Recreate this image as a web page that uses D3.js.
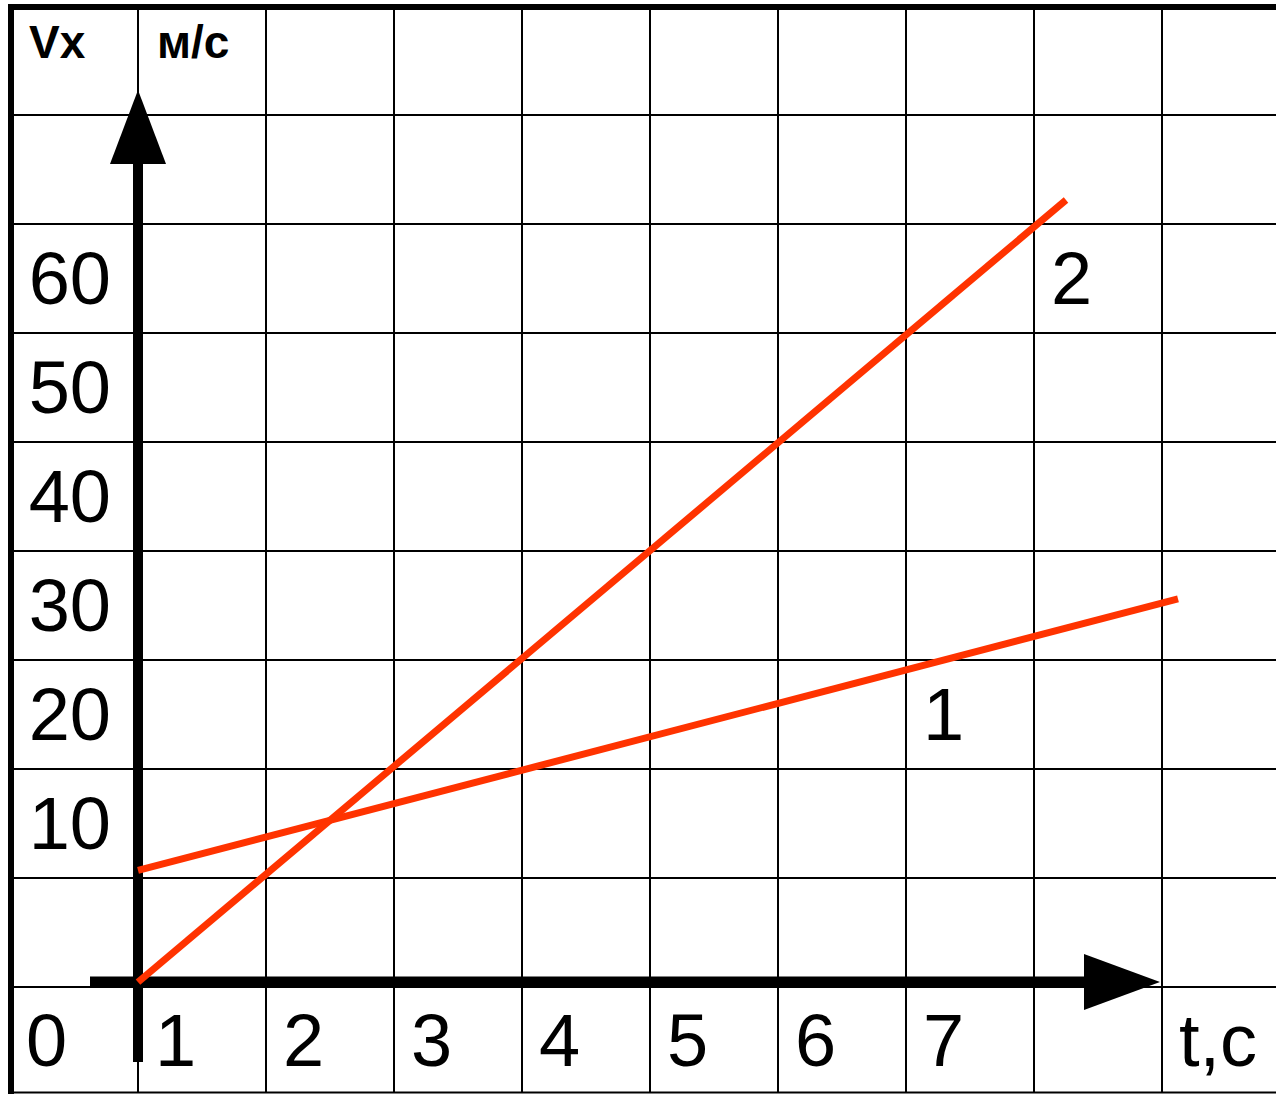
<!DOCTYPE html>
<html>
<head>
<meta charset="utf-8">
<script src="https://cdn.jsdelivr.net/npm/d3@7"></script>
<style>
  html, body { margin: 0; padding: 0; background: #fff; }
  svg { display: block; }
  text { font-family: "Liberation Sans", Arial, sans-serif; fill: #000; }
</style>
</head>
<body>
<script>
// ---- data ----
const timeTicks = [1, 2, 3, 4, 5, 6, 7];
const speedTicks = [10, 20, 30, 40, 50, 60];
const gridT = [0, 1, 2, 3, 4, 5, 6, 7, 8];
const gridV = [0, 10, 20, 30, 40, 50, 60, 70, 80];
const line1 = [[0, 10.7], [8.125, 35.6]];
const line2 = [[0, 0.45], [7.25, 72.2]];
const lineLabels = [
  { name: "1", cellT: 6, cellV: 20 },
  { name: "2", cellT: 7, cellV: 60 }
];
const yTitle = "Vx";
const yUnit = "м/с";
const xTitle = "t,c";

// ---- layout ----
const W = 1276, H = 1094;
const x = d3.scaleLinear().domain([0, 8]).range([138, 1162]);
const y = d3.scaleLinear().domain([0, 90]).range([987, 6]);

const svg = d3.select("body").append("svg").attr("width", W).attr("height", H);
svg.append("rect").attr("width", W).attr("height", H).attr("fill", "#fff");

const grid = svg.append("g").attr("stroke", "#000").attr("stroke-width", 2);
// vertical grid lines
grid.selectAll("line.v").data(gridT).join("line")
  .attr("x1", d => x(d)).attr("x2", d => x(d))
  .attr("y1", y(90)).attr("y2", 1093);
// horizontal grid lines
grid.selectAll("line.h").data(gridV).join("line")
  .attr("x1", x(-1)).attr("x2", W)
  .attr("y1", d => y(d)).attr("y2", d => y(d));
// bottom frame
grid.append("line").attr("x1", x(-1)).attr("x2", W).attr("y1", 1092.5).attr("y2", 1092.5);
// thick left & top frame
svg.append("line").attr("x1", x(-1) + 1).attr("x2", x(-1) + 1).attr("y1", 4).attr("y2", 1094)
  .attr("stroke", "#000").attr("stroke-width", 6);
svg.append("line").attr("x1", x(-1) - 2).attr("x2", W).attr("y1", y(90) + 1).attr("y2", y(90) + 1)
  .attr("stroke", "#000").attr("stroke-width", 6);

// ---- axes ----
const axisY0 = y(0) - 5; // x-axis drawn slightly above the 0 grid line
const axes = svg.append("g");
// y axis
axes.append("line").attr("x1", x(0)).attr("x2", x(0))
  .attr("y1", 1062).attr("y2", 150)
  .attr("stroke", "#000").attr("stroke-width", 10);
axes.append("path")
  .attr("d", `M${x(0)},90 L${x(0) - 28},164 L${x(0) + 28},164 Z`)
  .attr("fill", "#000");
// x axis
axes.append("line").attr("x1", 90).attr("x2", 1100)
  .attr("y1", axisY0).attr("y2", axisY0)
  .attr("stroke", "#000").attr("stroke-width", 11);
axes.append("path")
  .attr("d", `M${x(8) - 2},${axisY0} L1084,${axisY0 - 28} L1084,${axisY0 + 28} Z`)
  .attr("fill", "#000");

// ---- data lines ----
const lineGen = d3.line().x(d => x(d[0])).y(d => y(d[1]));
svg.selectAll("path.series").data([line1, line2]).join("path")
  .attr("class", "series")
  .attr("d", lineGen)
  .attr("fill", "none")
  .attr("stroke", "#ff3300")
  .attr("stroke-width", 7);

// ---- labels ----
const FS = 74;
svg.selectAll("text.ytick").data(speedTicks).join("text")
  .attr("class", "ytick")
  .attr("x", 111).attr("y", d => y(d) - 29)
  .attr("text-anchor", "end")
  .attr("font-size", FS)
  .text(d => d);

svg.selectAll("text.xtick").data(timeTicks).join("text")
  .attr("class", "xtick")
  .attr("x", d => x(d - 1) + 17).attr("y", y(0) + 79)
  .attr("font-size", FS)
  .text(d => d);

svg.append("text").attr("x", 26).attr("y", y(0) + 79)
  .attr("font-size", FS).text("0");

svg.append("text").attr("x", x(8) + 17).attr("y", y(0) + 79)
  .attr("font-size", FS).text(xTitle);

svg.selectAll("text.lineLabel").data(lineLabels).join("text")
  .attr("class", "lineLabel")
  .attr("x", d => x(d.cellT) + 17).attr("y", d => y(d.cellV) - 29)
  .attr("font-size", FS)
  .text(d => d.name);

svg.append("text").attr("x", 29).attr("y", 58)
  .attr("font-size", 46).attr("font-weight", "bold").text(yTitle);
svg.append("text").attr("x", 157).attr("y", 58)
  .attr("font-size", 46).attr("font-weight", "bold").text(yUnit);
</script>
</body>
</html>
